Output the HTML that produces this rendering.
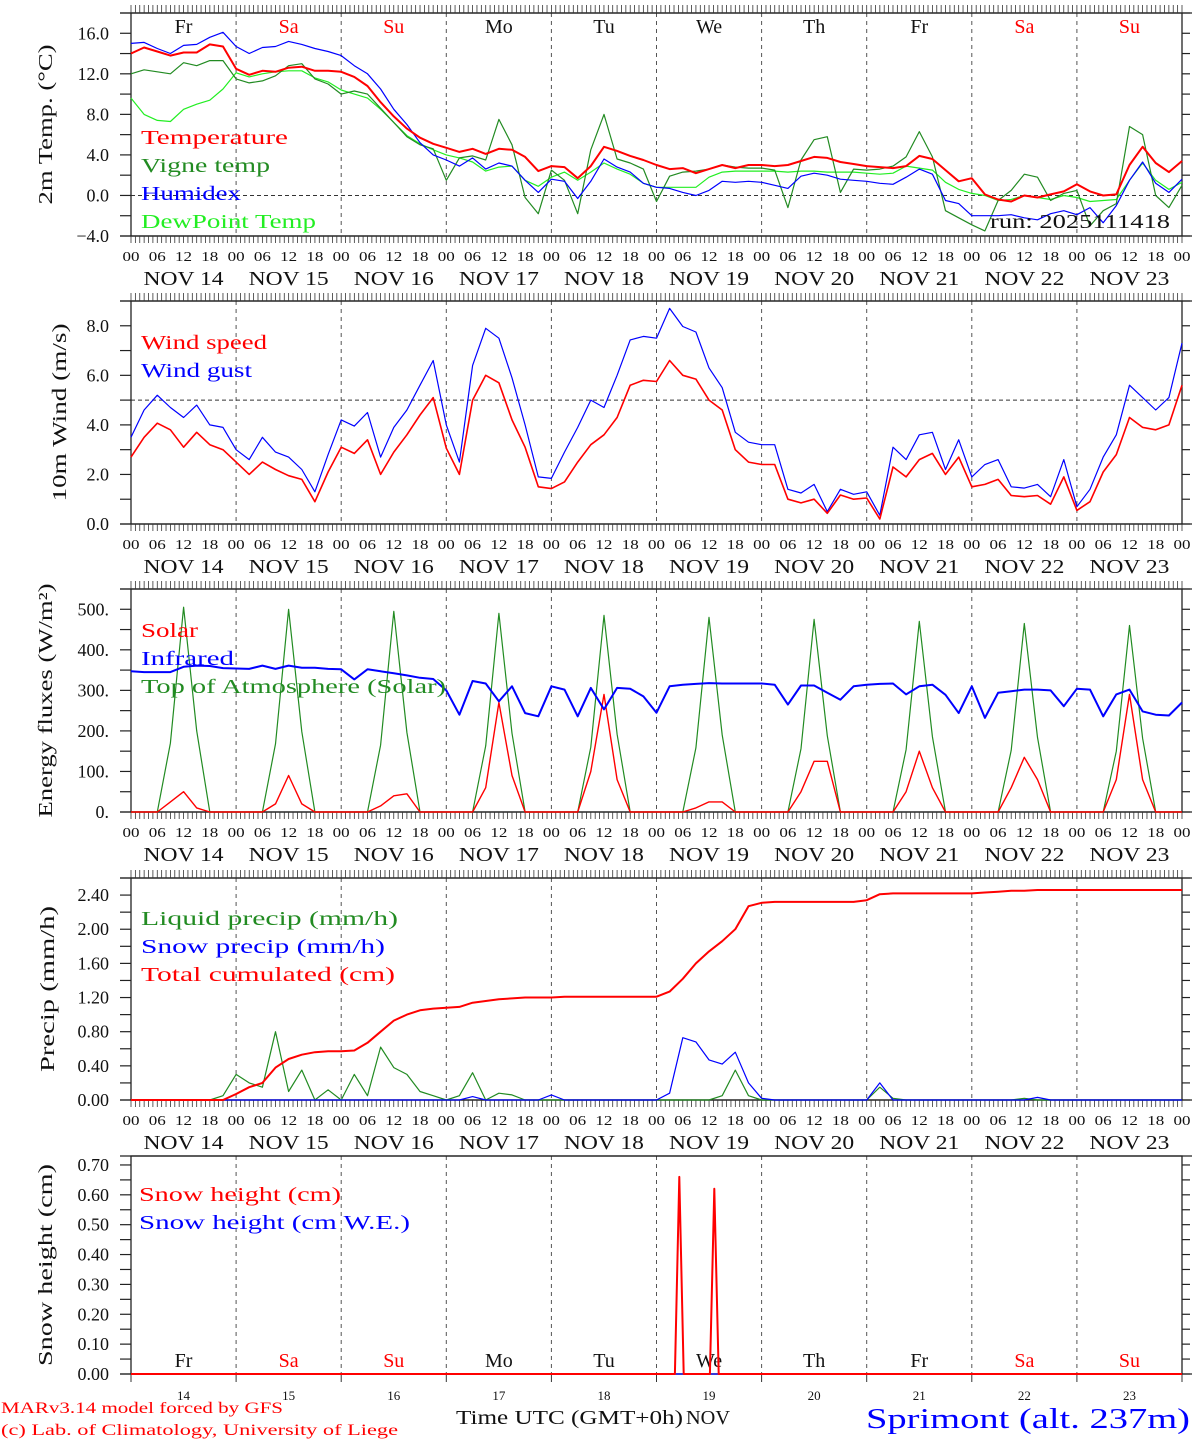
<!DOCTYPE html>
<html><head><meta charset="utf-8"><title>MAR forecast Sprimont</title>
<style>
html,body{margin:0;padding:0;background:#fff;}
svg{display:block;font-family:"Liberation Serif",serif;}
</style></head>
<body>
<svg id="chart" xmlns="http://www.w3.org/2000/svg" width="1194" height="1440" viewBox="0 0 1194 1440">
<rect x="0" y="0" width="1194" height="1440" fill="#fff"/>
</svg>
<script>
// ---------- DATA (3-hourly from NOV 14 00 UTC) ----------
const dayNames = ['Fr','Sa','Su','Mo','Tu','We','Th','Fr','Sa','Su'];
const dayNums = ['14','15','16','17','18','19','20','21','22','23'];
const hourLabels = ['00','06','12','18'];
const tempC = [14.0,14.6,14.2,13.8,14.1,14.1,14.9,14.7,
12.5,11.9,12.3,12.2,12.6,12.7,12.3,12.3,
12.2,11.7,10.8,9.2,7.8,6.6,5.7,5.1,
4.7,4.3,4.6,4.1,4.6,4.5,3.8,2.4,
2.9,2.8,1.7,2.9,4.8,4.4,3.9,3.5,
3.0,2.6,2.7,2.2,2.6,3.0,2.7,3.0,
3.0,2.9,3.0,3.4,3.8,3.7,3.3,3.1,
2.9,2.8,2.7,2.9,3.9,3.6,2.5,1.4,
1.7,0.1,-0.4,-0.6,0.0,-0.2,0.1,0.4,
1.1,0.4,0.0,0.1,3.0,4.8,3.2,2.3,3.4];
const vigneC = [12.0,12.4,12.2,12.0,13.1,12.8,13.3,13.3,
11.5,11.1,11.3,11.8,12.8,13.0,11.5,11.0,
10.0,10.3,10.0,8.6,7.2,5.8,5.0,4.6,
1.5,3.7,3.9,3.5,7.5,5.0,-0.2,-1.8,
2.5,1.5,-1.8,4.5,8.0,3.6,3.2,2.6,
-0.6,1.9,2.3,2.4,2.6,3.0,2.8,2.7,
2.7,2.5,-1.2,3.5,5.5,5.8,0.3,2.6,
2.5,2.6,2.9,3.8,6.3,3.8,-1.5,-2.2,
-2.9,-3.5,-0.5,0.5,2.1,1.8,-0.5,0.2,
0.5,-3.0,-1.5,-0.8,6.8,6.0,0.0,-1.2,1.0];
const humidexC = [15.0,15.1,14.5,14.0,14.8,14.9,15.6,16.1,
14.7,14.0,14.6,14.7,15.2,14.9,14.5,14.2,
13.8,12.8,12.0,10.5,8.5,7.0,5.2,4.0,
3.5,2.9,3.7,2.6,3.2,2.9,1.5,0.3,
1.6,1.4,-0.3,1.4,3.6,2.8,2.3,1.2,
0.8,0.7,0.3,0.0,0.5,1.4,1.3,1.4,
1.3,1.0,0.7,1.9,2.2,2.0,1.6,1.5,
1.4,1.2,1.1,1.8,2.6,2.1,-0.5,-0.8,
-2.0,-2.0,-2.0,-1.9,-2.2,-2.4,-1.8,-1.5,
-1.9,-1.2,-2.7,-1.0,1.5,3.3,1.2,0.3,1.6];
const dewPointC = [9.6,8.0,7.4,7.3,8.5,9.0,9.4,10.5,
12.1,11.7,12.0,12.2,12.3,12.3,11.6,11.2,
10.4,10.0,9.6,8.5,7.2,5.9,5.1,4.5,
4.0,3.7,3.3,2.4,2.8,2.9,1.5,0.9,
1.8,2.3,1.5,2.3,3.2,2.6,2.1,1.2,
0.8,0.8,0.8,0.8,1.8,2.3,2.4,2.4,
2.4,2.4,2.3,2.4,2.4,2.3,2.3,2.3,
2.2,2.1,2.2,2.9,2.7,2.5,1.3,0.6,
0.2,0.0,-0.5,-0.4,0.0,-0.2,-0.4,0.0,
-0.2,-0.6,-0.5,-0.4,1.5,3.2,1.5,0.6,1.3];
const windSpeed = [2.7,3.5,4.07,3.8,3.1,3.7,3.2,3.0,
2.5,2.0,2.5,2.2,1.95,1.8,0.9,2.1,
3.1,2.85,3.4,2.0,2.9,3.6,4.4,5.1,
3.06,2.0,5.0,6.0,5.7,4.2,3.1,1.5,
1.43,1.7,2.5,3.2,3.6,4.3,5.6,5.8,
5.75,6.6,6.0,5.85,5.0,4.6,3.0,2.5,
2.4,2.4,1.0,0.85,1.0,0.43,1.17,1.0,
1.05,0.2,2.3,1.9,2.6,2.85,2.0,2.7,
1.5,1.6,1.8,1.15,1.1,1.15,0.8,1.9,
0.55,0.9,2.1,2.8,4.3,3.9,3.8,4.0,5.6];
const windGust = [3.5,4.6,5.2,4.7,4.3,4.8,4.0,3.9,
3.0,2.6,3.5,2.9,2.7,2.2,1.3,2.8,
4.2,3.95,4.5,2.7,3.9,4.6,5.6,6.6,
4.0,2.5,6.4,7.9,7.5,5.9,4.0,1.9,
1.84,2.9,3.9,5.0,4.7,6.0,7.43,7.57,
7.5,8.7,7.97,7.75,6.3,5.5,3.7,3.3,
3.2,3.2,1.4,1.25,1.6,0.5,1.4,1.2,
1.3,0.35,3.1,2.6,3.6,3.7,2.2,3.4,
1.9,2.4,2.6,1.5,1.45,1.6,1.1,2.6,
0.7,1.4,2.7,3.6,5.6,5.1,4.6,5.1,7.3];
const solarFlux = [0,0,0,25,50,10,0,0,
0,0,0,20,90,20,0,0,
0,0,0,15,40,45,0,0,
0,0,0,60,270,90,0,0,
0,0,0,100,290,80,0,0,
0,0,0,10,25,25,0,0,
0,0,0,50,125,125,0,0,
0,0,0,50,150,60,0,0,
0,0,0,60,135,80,0,0,
0,0,0,80,290,80,0,0,0];
const infraredFlux = [347,345,345,345,358,361,360,355,
354,353,361,353,361,356,356,353,
352,327,352,347,342,337,331,328,
300,240,323,317,273,310,244,236,
310,302,236,306,253,306,304,285,
245,310,314,316,318,317,317,317,
317,314,265,312,312,294,277,310,
314,316,317,290,310,314,289,244,
310,232,294,298,302,302,300,261,
304,302,236,290,302,248,240,238,270];
const toaFlux = [0,0,0,170,505,200,0,0,
0,0,0,168,500,198,0,0,
0,0,0,165,495,196,0,0,
0,0,0,163,490,194,0,0,
0,0,0,160,485,192,0,0,
0,0,0,158,480,190,0,0,
0,0,0,156,475,188,0,0,
0,0,0,154,470,186,0,0,
0,0,0,152,465,184,0,0,
0,0,0,150,460,182,0,0,0];
const liquidPrecip = [0,0,0,0,0,0,0,0.05,
0.3,0.2,0.15,0.8,0.1,0.35,0.0,0.12,
0.0,0.3,0.05,0.62,0.38,0.3,0.1,0.05,
0.0,0.05,0.32,0.0,0.08,0.06,0,0,
0,0,0,0,0,0,0,0,
0,0,0,0,0,0.05,0.35,0.05,
0,0,0,0,0,0,0,0,
0,0.15,0.02,0,0,0,0,0,
0,0,0,0,0.02,0,0,0,
0,0,0,0,0,0,0,0,0];
const snowPrecip = [0,0,0,0,0,0,0,0,
0,0,0,0,0,0,0,0,
0,0,0,0,0,0,0,0,
0,0,0.04,0,0,0,0,0,
0.06,0,0,0,0,0,0,0,
0,0.08,0.73,0.68,0.47,0.42,0.56,0.2,
0.02,0,0,0,0,0,0,0,
0,0.2,0,0,0,0,0,0,
0,0,0,0,0,0.03,0,0,
0,0,0,0,0,0,0,0,0];
const totalCum = [0,0,0,0,0,0,0,0,
0.07,0.15,0.2,0.38,0.48,0.53,0.56,0.57,
0.57,0.58,0.67,0.8,0.93,1.0,1.05,1.07,
1.08,1.09,1.14,1.16,1.18,1.19,1.2,1.2,
1.2,1.21,1.21,1.21,1.21,1.21,1.21,1.21,
1.21,1.27,1.42,1.6,1.74,1.86,2.0,2.27,
2.31,2.32,2.32,2.32,2.32,2.32,2.32,2.32,
2.34,2.41,2.42,2.42,2.42,2.42,2.42,2.42,
2.42,2.43,2.44,2.45,2.45,2.46,2.46,2.46,
2.46,2.46,2.46,2.46,2.46,2.46,2.46,2.46,2.46];
const snowHeightHours = [0,124.2,125.2,126.2,132.2,133.2,134.2,240];
const snowHeightVals = [0,0,0.66,0,0,0.62,0,0];
const snowWEVals = [0,0,0,0,0,0,0,0];

// ---------- LAYOUT ----------
const svg = document.getElementById('chart');
const NS = 'http://www.w3.org/2000/svg';
const STEP = 3;
const X0 = 131, X1 = 1182, HMAX = 240;
function mk(tag, attrs, parent){
  const e = document.createElementNS(NS, tag);
  for (const k in attrs) e.setAttribute(k, attrs[k]);
  (parent || svg).appendChild(e);
  return e;
}
function xScale(h){ return X0 + h * (X1 - X0) / HMAX; }
function yScaleFor(p){ return v => p.bot - (v - p.min) * (p.bot - p.top) / (p.max - p.min); }

const panels = [
  {id:'temp', top:13, bot:236, min:-4, max:18, lab0:-4, labStep:4, labMax:16, minor:2, dec:1, hourAxis:true, topTicks:true, ref:0,
   ylabel:'2m Temp. (\u00B0C)', ylx:52, yllen:160},
  {id:'wind', top:301, bot:524, min:0, max:9, lab0:0, labStep:2, labMax:8, minor:1, dec:1, hourAxis:true, topTicks:true, ref:5,
   ylabel:'10m Wind (m/s)', ylx:66, yllen:178},
  {id:'energy', top:589, bot:812, min:0, max:550, lab0:0, labStep:100, labMax:500, minor:50, dec:-1, hourAxis:true, topTicks:true, ref:null,
   ylabel:'Energy fluxes (W/m\u00B2)', ylx:52, yllen:234},
  {id:'precip', top:878, bot:1100, min:0, max:2.6, lab0:0, labStep:0.4, labMax:2.4, minor:0.2, dec:2, hourAxis:true, topTicks:true, ref:null,
   ylabel:'Precip (mm/h)', ylx:54, yllen:166},
  {id:'snow', top:1156, bot:1374, min:0, max:0.73, lab0:0, labStep:0.1, labMax:0.7, minor:0.05, dec:2, hourAxis:false, topTicks:false, ref:null,
   ylabel:'Snow height (cm)', ylx:52, yllen:202}
];

function drawSeries(p, vals, color, width, name, hours){
  const ys = yScaleFor(p);
  let d = '';
  vals.forEach((v,i) => {
    const h = hours ? hours[i] : i * STEP;
    d += (i ? 'L' : 'M') + xScale(h).toFixed(1) + ' ' + ys(v).toFixed(1);
  });
  const e = mk('path', {d:d, fill:'none', stroke:color, 'stroke-width':width, 'stroke-linejoin':'round'});
  
  
}
function legend(x, y, txt, color, len, name, size){
  const t = mk('text', {x:x, y:y, fill:color, 'font-size':size||20, textLength:len, lengthAdjust:'spacingAndGlyphs'});
  t.textContent = txt;
  
  
  return t;
}

panels.forEach(p => {
  const g = mk('g', {});
  
  
  const ys = yScaleFor(p);
  // day separators
  for (let d = 1; d < 10; d++){
    const l = mk('line', {x1:xScale(d*24), x2:xScale(d*24), y1:p.top, y2:p.bot, stroke:'#555', 'stroke-width':1, 'stroke-dasharray':'4,4'}, g);
    
    
  }
  if (p.ref !== null){
    const r = mk('line', {x1:X0, x2:X1, y1:ys(p.ref), y2:ys(p.ref), stroke:'#333', 'stroke-width':1, 'stroke-dasharray':'4,3'}, g);
    
    
  }
  // frame
  const f = mk('rect', {x:X0, y:p.top, width:X1-X0, height:p.bot-p.top, fill:'none', stroke:'#222', 'stroke-width':1.3}, g);
  
  
  const tl = mk('line', {x1:120, x2:1192, y1:p.top, y2:p.top, stroke:'#222', 'stroke-width':1.3}, g);
  
  
  const bl = mk('line', {x1:120, x2:1192, y1:p.bot, y2:p.bot, stroke:'#222', 'stroke-width':1.3}, g);
  
  
  // y ticks
  for (let v = p.min; v <= p.max + 1e-9; v += p.minor){
    if (v < p.min - 1e-9) continue;
    const y = ys(v);
    const t = mk('line', {x1:120, x2:X0, y1:y, y2:y, stroke:'#222', 'stroke-width':1.2}, g);
    
    
    const t2 = mk('line', {x1:X1, x2:1190, y1:y, y2:y, stroke:'#222', 'stroke-width':1.2}, g);
    
    
  }
  for (let v = p.lab0; v <= p.labMax + 1e-9; v += p.labStep){
    const txt = p.dec < 0 ? Math.round(v) + '.' : (v < 0 ? '\u2212' + Math.abs(v).toFixed(p.dec) : v.toFixed(p.dec));
    const t = mk('text', {x:109, y:ys(v) + 6, 'text-anchor':'end', 'font-size':18, fill:'#111'}, g);
    t.textContent = txt;
    
    
  }
  // y label
  const cy = (p.top + p.bot) / 2;
  const yl = mk('text', {x:p.ylx, y:cy, transform:'rotate(-90 ' + p.ylx + ' ' + cy + ')', 'text-anchor':'middle', 'font-size':20, fill:'#111', textLength:p.yllen, lengthAdjust:'spacingAndGlyphs'}, g);
  yl.textContent = p.ylabel;
  
  
  // hourly ticks
  for (let h = 0; h <= HMAX; h++){
    const x = xScale(h);
    if (p.topTicks){
      const t = mk('line', {x1:x, x2:x, y1:p.top - 8, y2:p.top, stroke:'#333', 'stroke-width':0.8}, g);
      
      
    }
    if (p.hourAxis){
      const t = mk('line', {x1:x, x2:x, y1:p.bot, y2:p.bot + 7, stroke:'#333', 'stroke-width':0.8}, g);
      
      
    }
  }
  if (p.hourAxis){
    for (let d = 0; d <= 10; d++){
      const nk = d === 10 ? 1 : 4;
      for (let k = 0; k < nk; k++){
        const t = mk('text', {x:xScale(d*24 + k*6), y:p.bot + 25, 'text-anchor':'middle', 'font-size':14, fill:'#111', textLength:17, lengthAdjust:'spacingAndGlyphs'}, g);
        t.textContent = hourLabels[k];
        
        
      }
      if (d < 10){
        const n = mk('text', {x:xScale(d*24 + 12), y:p.bot + 49, 'text-anchor':'middle', 'font-size':20, fill:'#111', textLength:80, lengthAdjust:'spacingAndGlyphs'}, g);
        n.textContent = 'NOV ' + dayNums[d];
        
        
      }
    }
  } else {
    for (let d = 0; d <= 10; d++){
      const t = mk('line', {x1:xScale(d*24), x2:xScale(d*24), y1:p.bot, y2:p.bot + 8, stroke:'#333', 'stroke-width':1}, g);
      
      
      if (d < 10){
        const n = mk('text', {x:xScale(d*24 + 12), y:p.bot + 26, 'text-anchor':'middle', 'font-size':13, fill:'#111'}, g);
        n.textContent = dayNums[d];
        
        
      }
    }
  }
});

// weekday names
[[33, 'top'], [1367, 'bottom']].forEach(([yy, pos]) => {
  dayNames.forEach((nm, d) => {
    const red = nm === 'Sa' || nm === 'Su';
    const t = mk('text', {x:xScale(d*24 + 12), y:yy, 'text-anchor':'middle', 'font-size':20, fill:red ? '#ff0000' : '#111'});
    t.textContent = nm;
    
    
  });
});

// ---------- SERIES ----------
const P = panels;
drawSeries(P[0], dewPointC, '#22ee22', 1.2, 'dewpoint-line');
drawSeries(P[0], vigneC, '#228b22', 1.2, 'vigne-temp-line');
drawSeries(P[0], humidexC, '#0000ff', 1.2, 'humidex-line');
drawSeries(P[0], tempC, '#ff0000', 2, 'temperature-line');
drawSeries(P[1], windGust, '#0000ff', 1.2, 'wind-gust-line');
drawSeries(P[1], windSpeed, '#ff0000', 1.6, 'wind-speed-line');
drawSeries(P[2], toaFlux, '#228b22', 1.2, 'toa-solar-line');
drawSeries(P[2], solarFlux, '#ff0000', 1.4, 'solar-line');
drawSeries(P[2], infraredFlux, '#0000ff', 2, 'infrared-line');
drawSeries(P[3], liquidPrecip, '#228b22', 1.2, 'liquid-precip-line');
drawSeries(P[3], snowPrecip, '#0000ff', 1.2, 'snow-precip-line');
drawSeries(P[3], totalCum, '#ff0000', 2, 'total-cumulated-line');
drawSeries(P[4], snowWEVals, '#0000ff', 1.2, 'snow-height-we-line', snowHeightHours);
drawSeries(P[4], snowHeightVals, '#ff0000', 2, 'snow-height-line', snowHeightHours);

// ---------- LEGENDS ----------
legend(141, 144, 'Temperature', '#ff0000', 147, 'legend-temperature');
legend(141, 172, 'Vigne temp', '#228b22', 129, 'legend-vigne-temp');
legend(141, 200, 'Humidex', '#0000ff', 100, 'legend-humidex');
legend(141, 228, 'DewPoint Temp', '#22ee22', 175, 'legend-dewpoint');
legend(990, 228, 'run: 2025111418', '#111', 180, 'run-label');
legend(141, 349, 'Wind speed', '#ff0000', 126, 'legend-wind-speed');
legend(141, 377, 'Wind gust', '#0000ff', 111, 'legend-wind-gust');
legend(141, 637, 'Solar', '#ff0000', 57, 'legend-solar');
legend(141, 665, 'Infrared', '#0000ff', 93, 'legend-infrared');
legend(141, 693, 'Top of Atmosphere (Solar)', '#228b22', 305, 'legend-toa');
legend(141, 925, 'Liquid precip (mm/h)', '#228b22', 257, 'legend-liquid-precip');
legend(141, 953, 'Snow precip (mm/h)', '#0000ff', 244, 'legend-snow-precip');
legend(141, 981, 'Total cumulated (cm)', '#ff0000', 254, 'legend-total-cumulated');
legend(139, 1201, 'Snow height (cm)', '#ff0000', 202, 'legend-snow-height');
legend(139, 1229, 'Snow height (cm W.E.)', '#0000ff', 271, 'legend-snow-height-we');

// ---------- FOOTER ----------
legend(1, 1413, 'MARv3.14 model forced by GFS', '#ff0000', 282, 'model-credit', 16);
legend(1, 1435, '(c) Lab. of Climatology, University of Liege', '#ff0000', 397, 'lab-credit', 16);
legend(456, 1424, 'Time UTC (GMT+0h)', '#111', 227, 'x-axis-title', 20);
legend(686, 1424, 'NOV', '#111', 44, 'x-axis-month', 20);
legend(866, 1428, 'Sprimont (alt. 237m)', '#0000ff', 324, 'station-title', 28);
</script>
</body></html>
